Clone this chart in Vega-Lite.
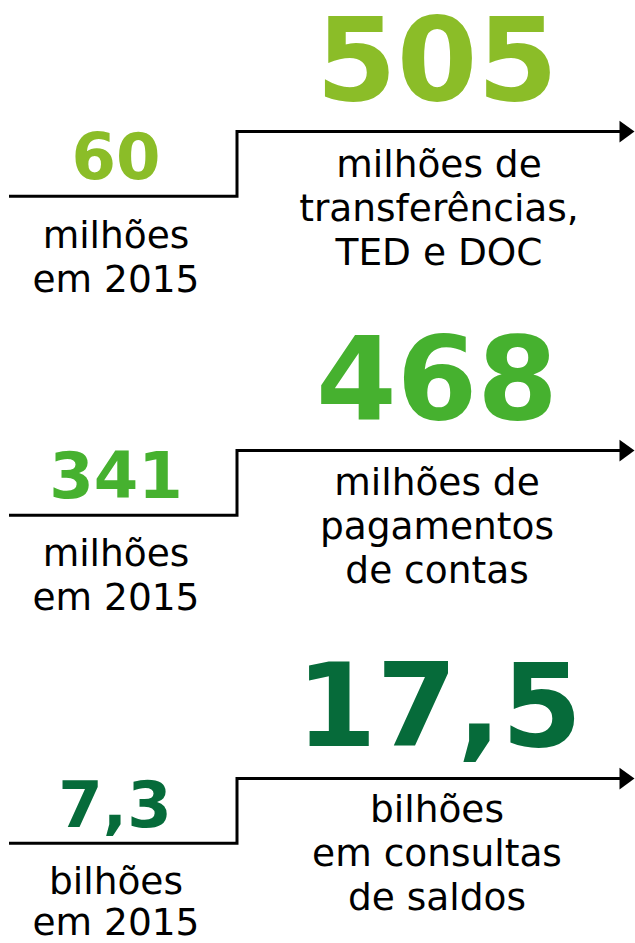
{
  "$schema": "https://vega.github.io/schema/vega-lite/v6.json",
  "width": 635,
  "height": 943,
  "autosize": {"type": "fit", "contains": "padding"},
  "padding": 0,
  "background": "white",
  "view": {"stroke": null},
  "config": {"font": "DejaVu Sans"},
  "datasets": {
    "steps": [
      {"metric": "transf", "ord": 1, "x": 9, "y": 197},
      {"metric": "transf", "ord": 2, "x": 237, "y": 197},
      {"metric": "transf", "ord": 3, "x": 237, "y": 132},
      {"metric": "transf", "ord": 4, "x": 627, "y": 132},
      {"metric": "pag", "ord": 1, "x": 9, "y": 517},
      {"metric": "pag", "ord": 2, "x": 237, "y": 517},
      {"metric": "pag", "ord": 3, "x": 237, "y": 452},
      {"metric": "pag", "ord": 4, "x": 627, "y": 452},
      {"metric": "cons", "ord": 1, "x": 9, "y": 846},
      {"metric": "cons", "ord": 2, "x": 237, "y": 846},
      {"metric": "cons", "ord": 3, "x": 237, "y": 781},
      {"metric": "cons", "ord": 4, "x": 627, "y": 781}
    ],
    "labels": [
      {"metric": "transf", "role": "big", "x": 437, "y": 100, "text": "505"},
      {"metric": "transf", "role": "small", "x": 116, "y": 180, "text": "60"},
      {"metric": "transf", "role": "cap", "x": 439, "y": 178, "text": "milhões de"},
      {"metric": "transf", "role": "cap", "x": 439, "y": 222, "text": "transferências,"},
      {"metric": "transf", "role": "cap", "x": 439, "y": 266, "text": "TED e DOC"},
      {"metric": "transf", "role": "cap", "x": 116, "y": 249, "text": "milhões"},
      {"metric": "transf", "role": "cap", "x": 116, "y": 293, "text": "em 2015"},
      {"metric": "pag", "role": "big", "x": 437, "y": 420, "text": "468"},
      {"metric": "pag", "role": "small", "x": 116, "y": 500, "text": "341"},
      {"metric": "pag", "role": "cap", "x": 437, "y": 497, "text": "milhões de"},
      {"metric": "pag", "role": "cap", "x": 437, "y": 541, "text": "pagamentos"},
      {"metric": "pag", "role": "cap", "x": 437, "y": 585, "text": "de contas"},
      {"metric": "pag", "role": "cap", "x": 116, "y": 568, "text": "milhões"},
      {"metric": "pag", "role": "cap", "x": 116, "y": 612, "text": "em 2015"},
      {"metric": "cons", "role": "big", "x": 439, "y": 748, "text": "17,5"},
      {"metric": "cons", "role": "small", "x": 115, "y": 830, "text": "7,3"},
      {"metric": "cons", "role": "cap", "x": 437, "y": 825, "text": "bilhões"},
      {"metric": "cons", "role": "cap", "x": 437, "y": 869, "text": "em consultas"},
      {"metric": "cons", "role": "cap", "x": 437, "y": 913, "text": "de saldos"},
      {"metric": "cons", "role": "cap", "x": 116, "y": 897, "text": "bilhões"},
      {"metric": "cons", "role": "cap", "x": 116, "y": 938, "text": "em 2015"}
    ]
  },
  "encoding": {
    "x": {"field": "x", "type": "quantitative", "scale": {"domain": [0, 635], "nice": false, "zero": false}, "axis": null},
    "y": {"field": "y", "type": "quantitative", "scale": {"domain": [0, 943], "reverse": true, "nice": false, "zero": false}, "axis": null}
  },
  "layer": [
    {
      "data": {"name": "steps"},
      "mark": {"type": "line", "color": "black", "strokeWidth": 3, "strokeJoin": "miter", "strokeCap": "butt"},
      "encoding": {
        "order": {"field": "ord", "type": "quantitative"},
        "detail": {"field": "metric", "type": "nominal"}
      }
    },
    {
      "data": {"name": "steps"},
      "transform": [{"filter": "datum.ord == 4"}],
      "mark": {"type": "point", "shape": "M-1,-1.45L1,0L-1,1.45Z", "filled": true, "color": "black", "opacity": 1, "size": 225, "strokeWidth": 0}
    },
    {
      "data": {"name": "labels"},
      "transform": [{"filter": "datum.role == 'big'"}],
      "mark": {"type": "text", "fontSize": 116, "fontWeight": "bold", "align": "center", "baseline": "alphabetic"},
      "encoding": {
        "text": {"field": "text"},
        "color": {"field": "metric", "type": "nominal", "scale": {"domain": ["transf", "pag", "cons"], "range": ["#8BBD28", "#46B12F", "#066B3A"]}, "legend": null}
      }
    },
    {
      "data": {"name": "labels"},
      "transform": [{"filter": "datum.role == 'small'"}],
      "mark": {"type": "text", "fontSize": 64, "fontWeight": "bold", "align": "center", "baseline": "alphabetic"},
      "encoding": {
        "text": {"field": "text"},
        "color": {"field": "metric", "type": "nominal", "legend": null}
      }
    },
    {
      "data": {"name": "labels"},
      "transform": [{"filter": "datum.role == 'cap'"}],
      "mark": {"type": "text", "fontSize": 37.5, "align": "center", "baseline": "alphabetic", "color": "black"},
      "encoding": {
        "text": {"field": "text"}
      }
    }
  ]
}
